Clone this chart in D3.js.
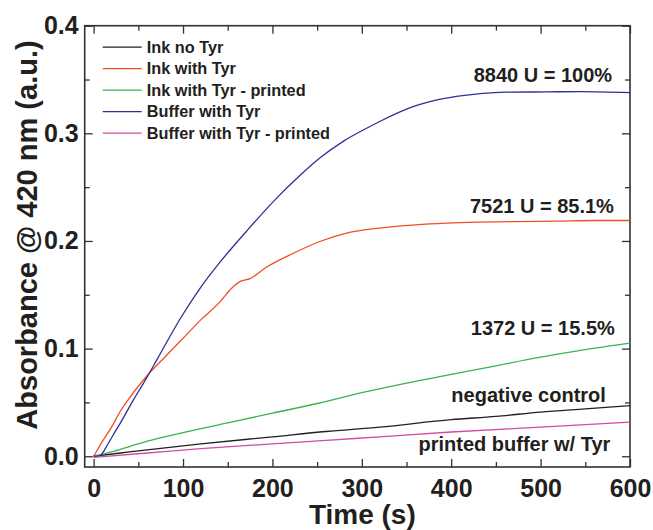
<!DOCTYPE html>
<html>
<head>
<meta charset="utf-8">
<script src="https://cdn.jsdelivr.net/npm/d3@7"></script>
<style>
  body { margin: 0; background: #fff; }
  svg { display: block; font-family: "Liberation Sans", Arial, sans-serif; font-weight: bold; }
</style>
</head>
<body>
<div id="chart"></div>
<script>
// ---- data ----
const inkNoTyrT = [0, 30, 60, 120, 200, 260, 320, 400, 450, 500, 550, 600];
const inkNoTyrV = [0, 0.003, 0.006, 0.0115, 0.018, 0.023, 0.027, 0.034, 0.037, 0.041, 0.044, 0.047];

const inkTyrT = [0, 5, 10, 20, 30, 40, 50, 60, 76, 97, 119, 143, 146, 151, 164, 175, 194, 224, 253, 283, 320, 360, 395, 430, 470, 520, 560, 600];
const inkTyrV = [0, 0.007, 0.014, 0.027, 0.042, 0.054, 0.065, 0.075, 0.089, 0.107, 0.126, 0.145, 0.148, 0.153, 0.1624, 0.165, 0.176, 0.1888, 0.1995, 0.2073, 0.212, 0.215, 0.2166, 0.2175, 0.218, 0.2185, 0.219, 0.219];

const inkPrintedT = [0, 10, 20, 40, 60, 100, 150, 200, 250, 300, 350, 400, 450, 500, 550, 600];
const inkPrintedV = [0, 0.002, 0.004, 0.009, 0.014, 0.022, 0.031, 0.040, 0.049, 0.059, 0.068, 0.076, 0.084, 0.092, 0.099, 0.105];

const bufferT = [0, 5, 9, 15, 22, 30, 45, 58, 71, 97, 119, 142, 171, 205, 231, 253, 280, 306, 320, 358, 391, 425, 462, 507, 544, 600];
const bufferV = [0, 0, 0.002, 0.010, 0.020, 0.031, 0.053, 0.071, 0.090, 0.128, 0.156, 0.181, 0.209, 0.240, 0.261, 0.277, 0.293, 0.305, 0.311, 0.325, 0.3322, 0.3362, 0.3382, 0.3385, 0.3388, 0.3378];

const bufferPrintedT = [0, 60, 120, 200, 260, 320, 400, 500, 600];
const bufferPrintedV = [-0.001, 0.003, 0.007, 0.0115, 0.0148, 0.018, 0.0225, 0.027, 0.0316];

const seriesNames = ["Ink no Tyr", "Ink with Tyr", "Ink with Tyr - printed", "Buffer with Tyr", "Buffer with Tyr - printed"];
const seriesColors = ["#231f20", "#f04e23", "#39b54a", "#2e3192", "#d04ca0"];

const xTicks = [0, 100, 200, 300, 400, 500, 600];
const yTicks = [0.0, 0.1, 0.2, 0.3, 0.4];

const notes = ["8840 U = 100%", "7521 U = 85.1%", "1372 U = 15.5%", "negative control", "printed buffer w/ Tyr"];

//=========================================================================
// Dimensions
//=========================================================================
const width = 653, height = 530;
const margin = { top: 25.7, right: 23, bottom: 63, left: 84.7 };
const iwidth = width - margin.left - margin.right,
      iheight = height - margin.top - margin.bottom;

const textColor = "#231f20",
      frameColor = "#333133";

const svg = d3.select("#chart").append("svg")
  .attr("width", width)
  .attr("height", height);

const g = svg.append("g")
  .attr("transform", `translate(${margin.left},${margin.top})`);

//=========================================================================
// Scales
//=========================================================================
const x = d3.scaleLinear().domain([-10, 600]).range([0, iwidth]);
const y = d3.scaleLinear().domain([-0.01, 0.4]).range([iheight, 0]);

//=========================================================================
// Axes (ticks point inward, on all four sides)
//=========================================================================
const xMinor = d3.range(0, 601, 50).filter(d => d % 100 !== 0);
const yMinor = [0.05, 0.15, 0.25, 0.35];

function styleAxis(sel) {
  sel.select(".domain").remove();
  sel.selectAll(".tick line").attr("stroke", frameColor).attr("stroke-width", 1.3);
  sel.selectAll(".tick text").attr("fill", textColor).attr("font-size", 25).attr("font-weight", "bold")
    .attr("font-family", "'Liberation Sans', Arial, sans-serif");
}

g.append("g").attr("transform", `translate(0,${iheight})`)
  .call(d3.axisBottom(x).tickValues(xTicks).tickSizeInner(-8).tickSizeOuter(0).tickPadding(12).tickFormat(d3.format("d")))
  .call(styleAxis);
g.append("g").attr("transform", `translate(0,${iheight})`)
  .call(d3.axisBottom(x).tickValues(xMinor).tickSizeInner(-5).tickSizeOuter(0).tickFormat(""))
  .call(styleAxis);
g.append("g")
  .call(d3.axisTop(x).tickValues(xTicks).tickSizeInner(-8).tickSizeOuter(0).tickFormat(""))
  .call(styleAxis);
g.append("g")
  .call(d3.axisTop(x).tickValues(xMinor).tickSizeInner(-5).tickSizeOuter(0).tickFormat(""))
  .call(styleAxis);

g.append("g")
  .call(d3.axisLeft(y).tickValues(yTicks).tickSizeInner(-8).tickSizeOuter(0).tickPadding(6).tickFormat(d3.format(".1f")))
  .call(styleAxis);
g.append("g")
  .call(d3.axisLeft(y).tickValues(yMinor).tickSizeInner(-5).tickSizeOuter(0).tickFormat(""))
  .call(styleAxis);
g.append("g").attr("transform", `translate(${iwidth},0)`)
  .call(d3.axisRight(y).tickValues(yTicks).tickSizeInner(-8).tickSizeOuter(0).tickFormat(""))
  .call(styleAxis);
g.append("g").attr("transform", `translate(${iwidth},0)`)
  .call(d3.axisRight(y).tickValues(yMinor).tickSizeInner(-5).tickSizeOuter(0).tickFormat(""))
  .call(styleAxis);

// frame
g.append("rect")
  .attr("width", iwidth).attr("height", iheight)
  .attr("fill", "none").attr("stroke", frameColor).attr("stroke-width", 1.6);

//=========================================================================
// Lines
//=========================================================================
const series = [
  [inkNoTyrT, inkNoTyrV],
  [inkTyrT, inkTyrV],
  [inkPrintedT, inkPrintedV],
  [bufferT, bufferV],
  [bufferPrintedT, bufferPrintedV]
].map(([ts, vs], i) => ({
  name: seriesNames[i],
  color: seriesColors[i],
  points: ts.map((t, j) => ({ t: t, v: vs[j] }))
}));

const line = d3.line()
  .x(d => x(d.t))
  .y(d => y(d.v))
  .curve(d3.curveMonotoneX);

g.selectAll("path.series")
  .data(series)
  .enter()
  .append("path")
  .attr("class", "series")
  .attr("fill", "none")
  .attr("stroke", d => d.color)
  .attr("stroke-width", 1.3)
  .attr("d", d => line(d.points));

//=========================================================================
// Legend
//=========================================================================
const legendX = 18, legendY = 21.5, legendGap = 21.5;

const legend = g.selectAll("g.legend")
  .data(series)
  .enter()
  .append("g")
  .attr("class", "legend")
  .attr("transform", (d, i) => `translate(${legendX},${legendY + i * legendGap})`);

legend.append("line")
  .attr("x1", 0).attr("x2", 39)
  .attr("stroke", d => d.color)
  .attr("stroke-width", 1.3);

legend.append("text")
  .attr("x", 44)
  .attr("dy", "0.35em")
  .attr("fill", textColor)
  .style("font-size", "16.3px")
  .text(d => d.name);

//=========================================================================
// Annotations (anchored in data units)
//=========================================================================
const noteAnchors = [[580, 0.348], [582, 0.226], [583, 0.113], [573, 0.050], [578, 0.005]];

g.selectAll("text.note")
  .data(notes)
  .enter()
  .append("text")
  .attr("class", "note")
  .attr("x", (d, i) => x(noteAnchors[i][0]))
  .attr("y", (d, i) => y(noteAnchors[i][1]))
  .attr("text-anchor", "end")
  .attr("fill", textColor)
  .style("font-size", "20px")
  .text(d => d);

//=========================================================================
// Axis titles
//=========================================================================
svg.append("text")
  .attr("x", margin.left + iwidth / 2 + 5)
  .attr("y", 524)
  .attr("text-anchor", "middle")
  .attr("fill", textColor)
  .style("font-size", "28px")
  .text("Time (s)");

svg.append("text")
  .attr("transform", "translate(37,235)rotate(-90)")
  .attr("text-anchor", "middle")
  .attr("fill", textColor)
  .style("font-size", "29px")
  .text("Absorbance @ 420 nm (a.u.)");
</script>
</body>
</html>
